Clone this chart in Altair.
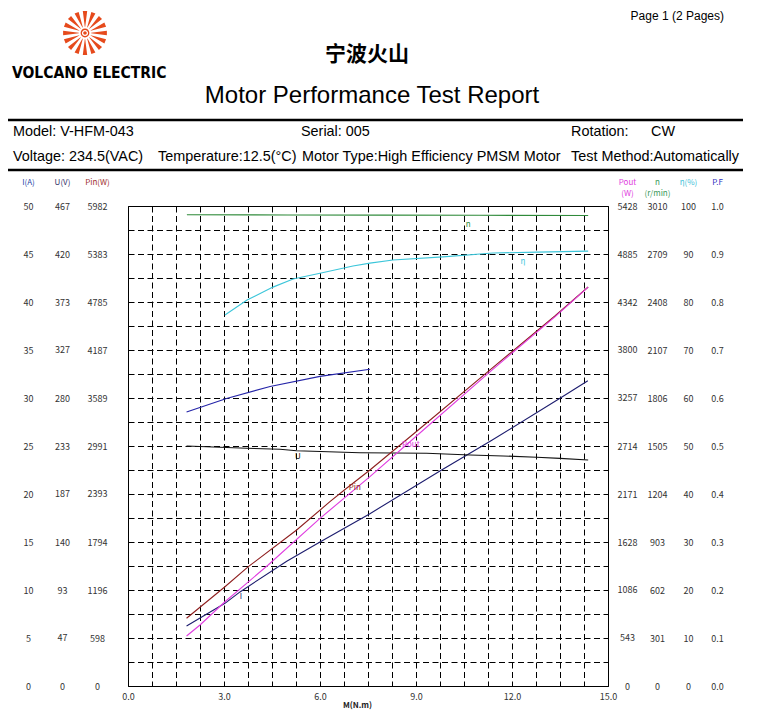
import altair as alt
import numpy as np
import pandas as pd

# ---------------- data ----------------
M_SPEED = [1.84, 5.0, 8.0, 11.0, 14.38]
SPEED = [2955, 2954, 2953, 2952, 2950]

M_EFF = [3.03, 3.72, 4.53, 5.16, 6.0, 7.03, 7.56, 8.28, 9.84, 11.4, 12.8, 14.38]
EFF = [77.3, 80.4, 83.1, 84.8, 86.0, 87.5, 88.1, 88.75, 89.4, 90.2, 90.4, 90.6]

M_U = [1.83, 3.71, 4.75, 5.27, 7.25, 9.33, 10.69, 11.72, 12.77, 13.5, 14.38]
VOLT = [233.5, 231.3, 230.3, 228.9, 227.0, 226.4, 224.7, 223.8, 222.5, 221.5, 219.9]

M_PIN = [1.83, 3.03, 3.76, 5.27, 6.31, 6.83, 7.56, 9.07, 11.37, 13.34, 14.38]
PIN = [844, 1237, 1487, 1944, 2297, 2464, 2692, 3190, 3959, 4611, 4973]

M_POUT = [1.83, 2.25, 3.03, 4.38, 6.0, 7.56, 9.23, 11.4, 13.34, 14.38]
POUT = [565, 690, 953, 1368, 1896, 2367, 2895, 3581, 4175, 4510]

M_I = [1.83, 3.03, 3.5, 4.96, 6.0, 7.56, 9.8, 11.37, 13.5, 14.37]
CUR = [6.25, 8.61, 9.8, 13.0, 15.0, 17.95, 22.5, 25.6, 29.97, 31.8]

M_PF = [1.83, 3.08, 4.44, 6.0, 7.56]
PF = [0.571, 0.599, 0.624, 0.645, 0.660]

# axis tick labels
TICK_I = [0, 5, 10, 15, 20, 25, 30, 35, 40, 45, 50]
TICK_U = [0, 47, 93, 140, 187, 233, 280, 327, 373, 420, 467]
TICK_PIN = [0, 598, 1196, 1794, 2393, 2991, 3589, 4187, 4785, 5383, 5982]
TICK_POUT = [0, 543, 1086, 1628, 2171, 2714, 3257, 3800, 4342, 4885, 5428]
TICK_N = [0, 301, 602, 903, 1204, 1505, 1806, 2107, 2408, 2709, 3010]
TICK_EFF = [0, 10, 20, 30, 40, 50, 60, 70, 80, 90, 100]
TICK_PF = [0.0, 0.1, 0.2, 0.3, 0.4, 0.5, 0.6, 0.7, 0.8, 0.9, 1.0]
TICK_M = [0.0, 3.0, 6.0, 9.0, 12.0, 15.0]

CURVE_LABELS = ["n", "η", "U", "Pin", "Pout", "I"]
LABEL_M = [10.63, 12.34, 5.31, 7.09, 8.84, 3.53]
LABEL_GRID = [48.0, 44.2, 23.85, 20.6, 25.1, 9.27]

# ---------------- styling ----------------
W, H = 480, 480
AX_FONT = "Noto Sans CJK SC"
LBL = "#333333"
C_N = "#2f8a3a"
C_EFF = "#3cc6da"
C_U = "#111111"
C_PIN = "#8e1e1e"
C_POUT = "#e03ce0"
C_I = "#1c1c6e"
C_PF = "#2424a8"

x_grid_vals = [i * 0.75 for i in range(21)]
y_grid_vals = [i * 2.5 for i in range(21)]
m_lab = "[" + ",".join(str(int(v)) for v in TICK_M) + "]"

x_enc = alt.X(
    "M:Q",
    scale=alt.Scale(domain=[0, 15], nice=False, zero=False),
    axis=alt.Axis(
        values=x_grid_vals, grid=True, gridColor="#000", gridDash=[6, 3.5],
        gridOpacity=1, gridWidth=1, ticks=False, domain=False,
        labelExpr=f"indexof({m_lab}, datum.value) >= 0 ? format(datum.value, '.1f') : ''",
        labelPadding=6, labelFontSize=9, labelColor=LBL, labelFont=AX_FONT,
        labelFlush=False, labelOverlap=False,
        title="M(N.m)", titleX=229, titleY=19, titleFontSize=8,
        titleFontWeight="bold", titleBaseline="middle", titleAlign="center",
        titleColor="#222", titleFont=AX_FONT,
    ),
)


def side_axis(orient, title, values, pad, tcolor, fmt="d", grid=False, label_expr=None):
    kw = dict(
        orient=orient, values=values, labelPadding=pad, labelAlign="center",
        labelBaseline="middle", ticks=False, tickSize=0, domain=False,
        labelColor=LBL, labelFontSize=9, labelFont=AX_FONT, labelFlush=False,
        labelOverlap=False, title=title, titleX=(-pad if orient == "left" else pad),
        titleY=-28, titleAngle=0, titleAlign="center", titleBaseline="top",
        titleColor=tcolor, titleFontSize=8, titleFontWeight="normal",
        titleFont=AX_FONT, titleLineHeight=11, grid=grid, format=fmt,
    )
    if label_expr:
        kw["labelExpr"] = label_expr
    if grid:
        kw.update(gridColor="#000", gridDash=[6, 3.5], gridOpacity=1, gridWidth=1)
    return alt.Axis(**kw)


def curve(mvals, vals, dom, color, axis):
    df = pd.DataFrame({"M": mvals, "v": vals})
    return alt.Chart(df).mark_line(color=color, strokeWidth=1.1).encode(
        x=x_enc,
        y=alt.Y("v:Q", scale=alt.Scale(domain=[0, dom], nice=False, zero=True), axis=axis),
    )


i_lab = "[" + ",".join(str(v) for v in TICK_I) + "]"
layer_i = curve(M_I, CUR, 50, C_I,
                side_axis("left", "I(A)", y_grid_vals, 100, "#2848a8", grid=True,
                          label_expr=f"indexof({i_lab}, datum.value) >= 0 ? datum.label : ''"))
layer_u = curve(M_U, VOLT, 467, C_U, side_axis("left", "U(V)", TICK_U, 66, "#33336a"))
layer_pin = curve(M_PIN, PIN, 5982, C_PIN, side_axis("left", "Pin(W)", TICK_PIN, 31, "#a03030"))
layer_pout = curve(M_POUT, POUT, 5428, C_POUT, side_axis("right", ["Pout", "(W)"], TICK_POUT, 19, "#e040e0"))
layer_n = curve(M_SPEED, SPEED, 3010, C_N, side_axis("right", ["n", "(r/min)"], TICK_N, 49, "#3a9a5a"))
layer_eff = curve(M_EFF, EFF, 100, C_EFF, side_axis("right", "η(%)", TICK_EFF, 80, "#40c0d8"))
layer_pf = curve(M_PF, PF, 1.0, C_PF, side_axis("right", "P.F", TICK_PF, 109, "#3030c0", fmt=".1f"))

lab_df = pd.DataFrame({"M": LABEL_M, "g": LABEL_GRID, "t": CURVE_LABELS})
layer_labels = alt.Chart(lab_df).mark_text(fontSize=8, font=AX_FONT, baseline="middle", align="center").encode(
    x=x_enc,
    y=alt.Y("g:Q", scale=alt.Scale(domain=[0, 50], nice=False), axis=None),
    text="t:N",
    color=alt.Color("t:N", scale=alt.Scale(domain=CURVE_LABELS,
                                           range=[C_N, C_EFF, C_U, C_PIN, C_POUT, C_I]), legend=None),
)


def htext(text, x, y, size=14.4, align="left", weight="normal", color="#000",
          font="Liberation Sans", baseline="middle"):
    return alt.Chart(pd.DataFrame({"t": [text]})).mark_text(
        align=align, baseline=baseline, fontSize=size, fontWeight=weight, color=color, font=font
    ).encode(x=alt.value(x), y=alt.value(y), text="t:N")


def hrule(y):
    return alt.Chart(pd.DataFrame({"a": [0]})).mark_rule(color="#000", strokeWidth=2.5).encode(
        x=alt.value(-123), x2=alt.value(615), y=alt.value(y))


# sunburst logo shape
parts = []
n_r = 16
for k in range(n_r):
    a = 2 * np.pi * k / n_r
    r0, r1, wi, wo = 0.28, 1.0, 0.035, 0.1
    pts = [(r0, a - wi), (r1, a - wo), (r1, a + wo), (r0, a + wi)]
    xy = [(r * np.cos(t), r * np.sin(t)) for r, t in pts]
    parts.append("M" + " L".join(f"{px:.3f},{py:.3f}" for px, py in xy) + " Z")
parts.append("M0.2,0 A0.2,0.2 0 1 1 -0.2,0 A0.2,0.2 0 1 1 0.2,0 Z")
parts.append("M0.14,0 A0.14,0.14 0 1 0 -0.14,0 A0.14,0.14 0 1 0 0.14,0 Z")
parts.append("M0.08,0 A0.08,0.08 0 1 1 -0.08,0 A0.08,0.08 0 1 1 0.08,0 Z")
SUN = " ".join(parts)

logo = alt.Chart(pd.DataFrame({"a": [0]})).mark_point(
    shape=SUN, size=1936, filled=True, color="#e64a1c", opacity=1, strokeWidth=0
).encode(x=alt.value(-43), y=alt.value(-173))

header = [
    logo,
    htext("VOLCANO ELECTRIC", -116, -133, size=15.5, weight="bold",
          font="DejaVu Sans Condensed, Liberation Sans"),
    htext("Page 1 (2 Pages)", 596, -195, size=12, align="right", baseline="top"),
    htext("宁波火山", 239, -151, size=21, align="center", weight="bold", font="Noto Sans CJK SC"),
    htext("Motor Performance Test Report", 244, -110, size=24, align="center"),
    hrule(-86),
    htext("Model: V-HFM-043", -115, -74),
    htext("Serial:  005", 173, -74),
    htext("Rotation:", 443, -74),
    htext("CW", 523, -74),
    htext("Voltage: 234.5(VAC)", -115, -49),
    htext("Temperature:12.5(°C)", 30, -49),
    htext("Motor Type:High Efficiency PMSM Motor", 174, -49),
    htext("Test Method:Automatically", 443, -49),
    hrule(-36),
]

chart = alt.layer(
    layer_i, layer_u, layer_pin, layer_pout, layer_n, layer_eff, layer_pf, layer_labels, *header
).resolve_scale(y="independent").properties(
    width=W, height=H,
    autosize=alt.AutoSizeParams(type="none"),
    padding={"left": 120, "top": 198, "right": 146, "bottom": 24},
).configure_view(stroke="#000", strokeWidth=1)

chart.save("out.html", embed_options={"renderer": "svg", "actions": False})
